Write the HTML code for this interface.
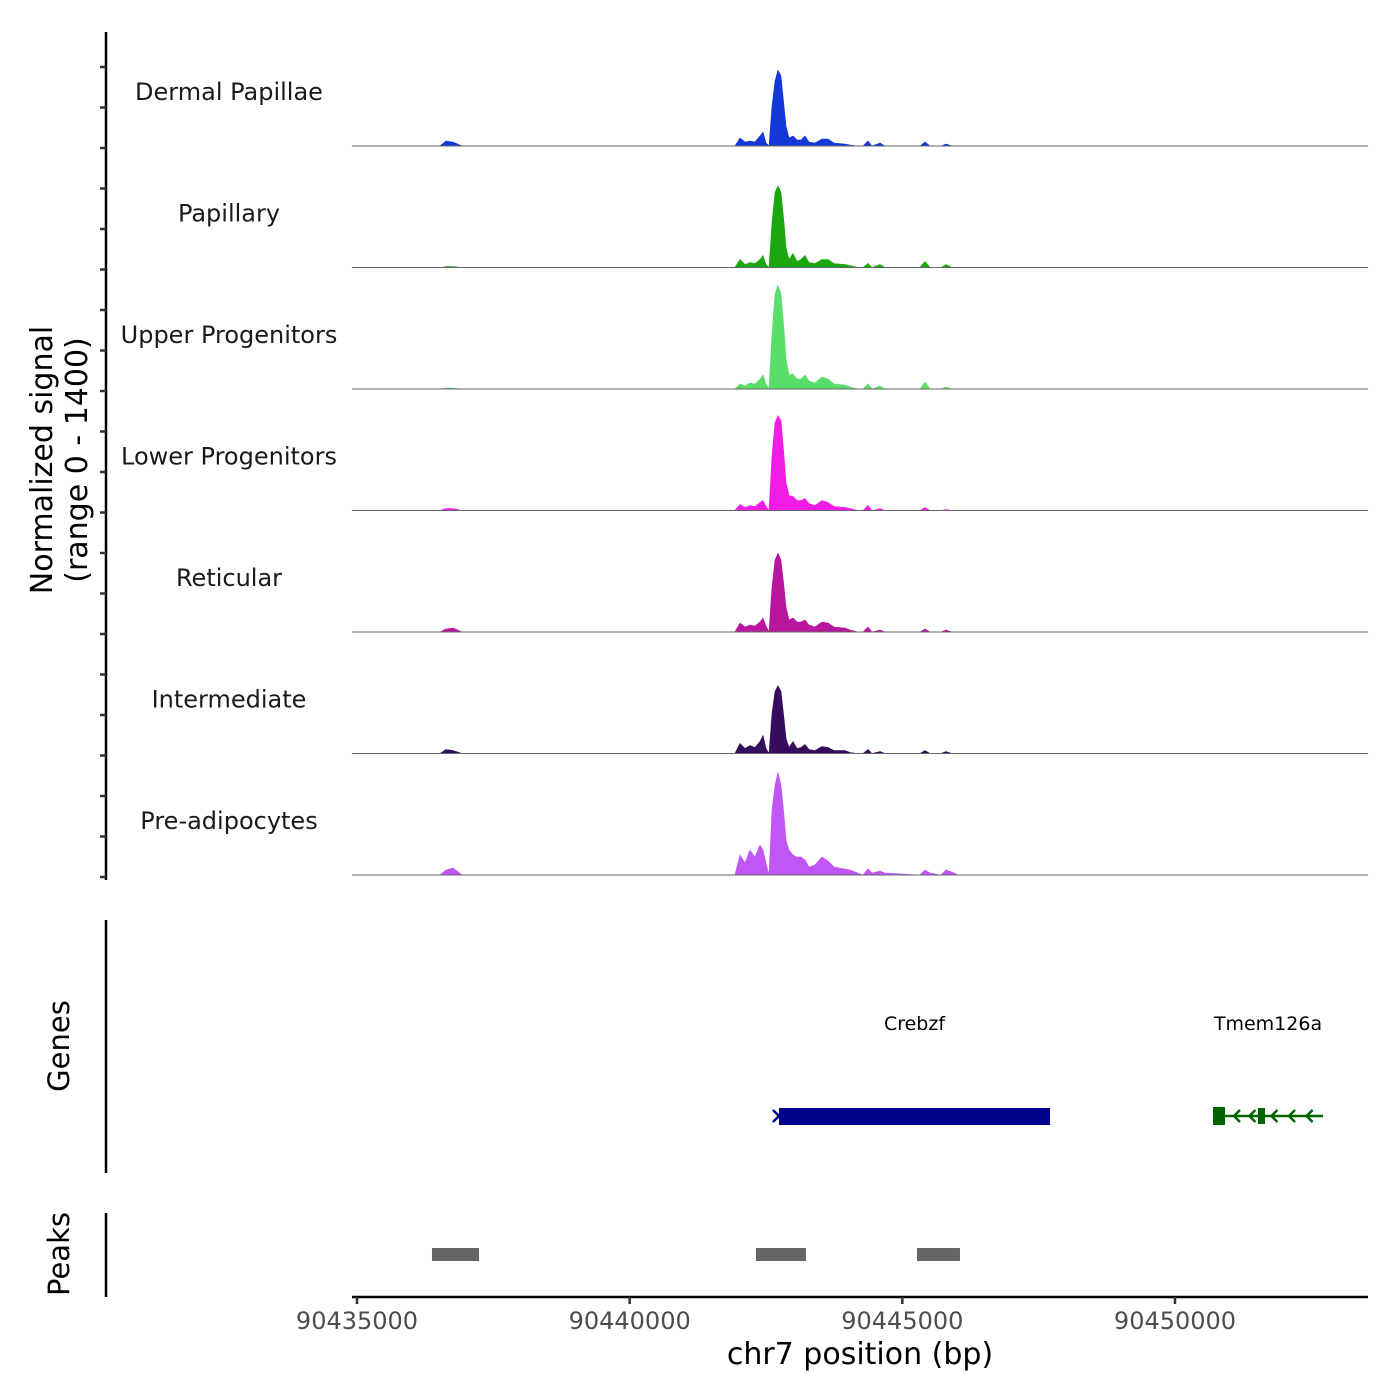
<!DOCTYPE html>
<html><head><meta charset="utf-8"><style>
body{margin:0;background:#fff;}
svg{display:block;font-family:"DejaVu Sans","Liberation Sans",sans-serif;}
</style></head><body>
<svg id="chart" width="1400" height="1400" viewBox="0 0 1400 1400"></svg>
<script>
const trackNames=["Dermal Papillae","Papillary","Upper Progenitors","Lower Progenitors","Reticular","Intermediate","Pre-adipocytes"];
const trackColors=["#1438d8","#1aa80e","#5ade6a","#f21ce6","#b8169e","#350d5c","#c057f5"];
const positions=[90434910,90436520,90436632,90436760,90436925,90441290,90441930,90442023,90442115,90442206,90442298,90442390,90442445,90442500,90442555,90442610,90442665,90442720,90442775,90442830,90442867,90442922,90442995,90443068,90443142,90443215,90443288,90443398,90443527,90443637,90443747,90443948,90444040,90444187,90444279,90444370,90444444,90444590,90444682,90445324,90445415,90445507,90445709,90445800,90445910,90446021,90453539];
const sigDermal=[0,0,58,46,0,0,0,92,46,58,46,115,161,35,0,460,748,874,805,460,230,92,115,69,69,115,46,35,81,81,35,23,12,0,0,58,0,35,0,0,46,0,0,23,0,0,0];
const sigPapillary=[0,0,12,12,0,0,0,92,35,58,46,92,138,35,0,518,863,943,863,518,230,92,161,69,92,138,58,46,92,92,46,35,23,0,0,46,0,35,0,0,69,0,0,35,0,0,0];
const sigUpper=[0,0,12,12,0,0,0,58,35,69,58,115,161,58,0,633,1093,1196,1093,690,345,161,173,115,115,161,92,69,138,115,58,46,23,0,0,58,0,35,0,0,81,0,0,23,0,0,0];
const sigLower=[0,0,23,23,0,0,0,69,35,58,46,92,115,46,0,633,1012,1093,1035,633,322,173,161,115,115,138,81,58,115,92,46,35,23,0,0,58,0,23,0,0,35,0,0,12,0,0,0];
const sigReticular=[0,0,35,46,0,0,0,104,58,81,69,115,161,69,0,518,828,909,828,518,288,138,161,115,115,138,81,58,115,104,58,46,23,0,0,58,0,23,0,0,35,0,0,23,0,0,0];
const sigIntermediate=[0,0,46,35,0,0,0,115,58,92,69,138,207,58,0,460,713,782,713,403,173,69,138,58,69,104,46,35,81,69,35,35,12,0,0,46,0,23,0,0,35,0,0,23,0,0,0];
const sigPreadipo=[0,0,58,81,0,0,0,230,138,288,207,345,288,138,0,748,1035,1185,1035,690,403,288,230,207,207,173,92,115,207,161,92,69,58,23,0,69,23,46,23,0,58,23,0,58,35,0,0];
const signals=[sigDermal,sigPapillary,sigUpper,sigLower,sigReticular,sigIntermediate,sigPreadipo];
const xTicks=[90435000,90440000,90445000,90450000];
const geneNames=["Crebzf","Tmem126a"];
const geneStarts=[90442738,90450697];
const geneEnds=[90447708,90452714];
const peakStarts=[90436375,90442317,90445269];
const peakEnds=[90437237,90443233,90446057];
const yMax=1400;

const NS="http://www.w3.org/2000/svg";
const svg=document.getElementById('chart');
function mk(tag,attrs,parent){const e=document.createElementNS(NS,tag);for(const k in attrs)e.setAttribute(k,attrs[k]);(parent||svg).appendChild(e);return e;}
const X=bp=>357+(bp-90435000)*(1175-357)/15000;
const trackH=121.5, firstBase=146;
const baseY=i=>firstBase+i*trackH;
const Y=(i,v)=>baseY(i)-v/yMax*trackH;

let e=mk('line',{x1:106,y1:32,x2:106,y2:880,stroke:'#000','stroke-width':2.5});


for(let k=0;k<21;k++){const y=67+k*40.5;
 e=mk('line',{x1:100,y1:y,x2:106,y2:y,stroke:'#333','stroke-width':2.5});
 
 }
e=mk('text',{x:0,y:0,'font-size':30,'text-anchor':'middle',fill:'#000',transform:'translate(52,460) rotate(-90)'});


e.innerHTML='<tspan x="0" dy="0">Normalized signal</tspan><tspan x="0" dy="35">(range 0 - 1400)</tspan>';

signals.forEach((s,i)=>{
 let d='M'+X(positions[0])+','+baseY(i);
 positions.forEach((p,j)=>{d+=' L'+X(p).toFixed(1)+','+Y(i,s[j]).toFixed(1);});
 d+=' L'+X(positions[positions.length-1])+','+baseY(i)+' Z';
 let a=mk('path',{d:d,fill:trackColors[i],stroke:trackColors[i],'stroke-width':0.6,'stroke-linejoin':'round'});
 
 
 let b=mk('line',{x1:352,y1:baseY(i),x2:1368,y2:baseY(i),stroke:'#666','stroke-width':1});
 
 
 let t=mk('text',{x:229,y:baseY(i)-46,'font-size':24,'text-anchor':'middle',fill:'#1a1a1a'});
 
 
 t.textContent=trackNames[i];
});

e=mk('line',{x1:106,y1:920,x2:106,y2:1173,stroke:'#000','stroke-width':2.5});


e=mk('text',{x:0,y:0,'font-size':29,'text-anchor':'middle',transform:'translate(69,1046) rotate(-90)'});


e.textContent='Genes';
let gx1=X(geneStarts[0]),gx2=X(geneEnds[0]);
e=mk('rect',{x:gx1,y:1108,width:gx2-gx1,height:17,fill:'#00008b'});


e=mk('path',{d:`M${gx1-6},${1110} L${gx1},${1116} L${gx1-6},${1122}`,stroke:'#00008b','stroke-width':2.5,fill:'none'});


e=mk('text',{x:(gx1+gx2)/2,y:1030,'font-size':19,'text-anchor':'middle',fill:'#000'});


e.textContent=geneNames[0];
let tx1=X(geneStarts[1]),tx2=X(geneEnds[1]);
e=mk('line',{x1:tx1,y1:1116,x2:tx2,y2:1116,stroke:'#006400','stroke-width':2.5});


e=mk('rect',{x:tx1,y:1107,width:12,height:18,fill:'#006400'});


e=mk('rect',{x:tx1+45,y:1108,width:7,height:16,fill:'#006400'});


[0.2,0.34,0.54,0.7,0.86].forEach(f=>{const ax=tx1+(tx2-tx1)*f;
 let a=mk('path',{d:`M${ax+5},${1110} L${ax-1},${1116} L${ax+5},${1122}`,stroke:'#006400','stroke-width':2.5,fill:'none'});
 
 });
e=mk('text',{x:(tx1+tx2)/2,y:1030,'font-size':19,'text-anchor':'middle',fill:'#000'});


e.textContent=geneNames[1];

e=mk('line',{x1:106,y1:1213,x2:106,y2:1297,stroke:'#000','stroke-width':2.5});


e=mk('text',{x:0,y:0,'font-size':29,'text-anchor':'middle',transform:'translate(69,1254) rotate(-90)'});


e.textContent='Peaks';
peakStarts.forEach((p,i)=>{
 let r=mk('rect',{x:X(p),y:1248,width:X(peakEnds[i])-X(p),height:13,fill:'#666'});
 
 });

e=mk('line',{x1:352,y1:1297,x2:1368,y2:1297,stroke:'#000','stroke-width':2.5});


xTicks.forEach(t=>{
 let l=mk('line',{x1:X(t),y1:1297,x2:X(t),y2:1304,stroke:'#333','stroke-width':2.5});
 
 
 let tx=mk('text',{x:X(t),y:1329,'font-size':24,'text-anchor':'middle',fill:'#4d4d4d'});
 
 
 tx.textContent=t;});
e=mk('text',{x:860,y:1364,'font-size':30,'text-anchor':'middle',fill:'#000'});


e.textContent='chr7 position (bp)';
</script>
</body></html>
